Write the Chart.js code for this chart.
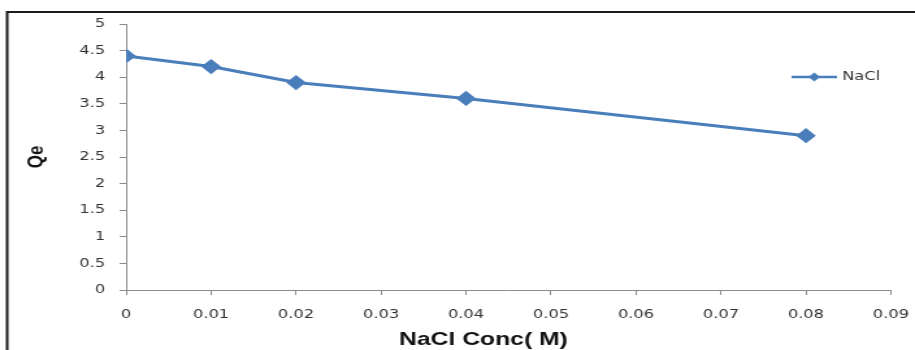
<!DOCTYPE html>
<html>
<head>
<meta charset="UTF-8">
<title>Qe vs NaCl Conc</title>
<script src="https://cdn.jsdelivr.net/npm/chart.js"></script>
<style>
  body { margin: 0; background: #fff; overflow: hidden; }
  /* the figure is drawn narrow and widened, like the pasted-in original */
  .wrap {
    width: 704px;
    height: 350px;
    transform: scaleX(1.2997);
    transform-origin: 0 0;
  }
</style>
</head>
<body>
<div class="wrap"><canvas id="qeChart" width="704" height="350"></canvas></div>
<script>
// NaCl concentration (M) and adsorption capacity Qe
const concentrations = [0, 0.01, 0.02, 0.04, 0.08];
const qeValues = [4.4, 4.2, 3.9, 3.6, 2.9];
const seriesName = 'NaCl';
const xTitle = 'NaCl Conc( M)';
const yTitle = 'Qe';

const lineColor = '#4a7ebb';
const axisColor = '#8c8c8c';
const labelColor = '#333';
const tickFont = { family: "'DejaVu Sans', Verdana, sans-serif", size: 12.5 };
const titleFamily = "'Liberation Sans', Arial, sans-serif";

// outer frame of the figure (left and top edges visible)
const framePlugin = {
  id: 'frame',
  beforeDraw(chart) {
    const ctx = chart.ctx;
    ctx.save();
    ctx.strokeStyle = '#1a1a1a';
    ctx.lineWidth = 2;
    ctx.strokeRect(5.5, 12, 800, 400);
    ctx.restore();
  }
};

// x axis title and the legend entry at the right of the plot
const labelsPlugin = {
  id: 'extraLabels',
  afterDraw(chart) {
    const ctx = chart.ctx;
    const ds = chart.data.datasets[0];
    ctx.save();

    ctx.fillStyle = '#111';
    ctx.font = 'bold 19px ' + titleFamily;
    ctx.textAlign = 'center';
    ctx.textBaseline = 'middle';
    ctx.fillText(xTitle, 372, 340);

    const x = 609, y = 77;
    ctx.strokeStyle = ds.borderColor;
    ctx.lineWidth = 2.5;
    ctx.beginPath();
    ctx.moveTo(x, y);
    ctx.lineTo(x + 35, y);
    ctx.stroke();
    ctx.fillStyle = ds.borderColor;
    ctx.beginPath();
    ctx.moveTo(x + 17.5, y - 4.5);
    ctx.lineTo(x + 22, y);
    ctx.lineTo(x + 17.5, y + 4.5);
    ctx.lineTo(x + 13, y);
    ctx.closePath();
    ctx.fill();
    ctx.fillStyle = labelColor;
    ctx.font = "12.5px 'DejaVu Sans', Verdana, sans-serif";
    ctx.textAlign = 'left';
    ctx.fillText(ds.label, x + 39, y);
    ctx.restore();
  }
};

new Chart(document.getElementById('qeChart'), {
  type: 'line',
  data: {
    datasets: [{
      label: seriesName,
      data: concentrations.map((c, i) => ({ x: c, y: qeValues[i] })),
      borderColor: lineColor,
      backgroundColor: lineColor,
      borderWidth: 3,
      pointStyle: 'rectRot',
      pointRadius: 5.5,
      pointHoverRadius: 5.5,
      tension: 0
    }]
  },
  options: {
    responsive: false,
    devicePixelRatio: 1,
    animation: false,
    layout: { padding: { top: 24, right: 18.5, left: 0, bottom: 0 } },
    plugins: {
      legend: { display: false },
      tooltip: { enabled: false }
    },
    scales: {
      x: {
        type: 'linear',
        min: 0,
        max: 0.09,
        afterFit(scale) {
          scale.height = 60;
          // keep the edge labels from shrinking the plot area
          scale.paddingLeft = 0;
          scale.paddingRight = 0;
        },
        ticks: {
          stepSize: 0.01,
          padding: 12,
          color: labelColor,
          font: tickFont,
          callback: v => String(Number(v.toFixed(2)))
        },
        grid: { drawOnChartArea: false, drawTicks: true, tickLength: 5, color: axisColor },
        border: { color: axisColor, width: 1 }
      },
      y: {
        min: 0,
        max: 5,
        afterFit(scale) { scale.width = 97; },
        ticks: {
          stepSize: 0.5,
          padding: 11,
          color: labelColor,
          font: tickFont,
          callback: v => String(v)
        },
        grid: { drawOnChartArea: false, drawTicks: true, tickLength: 5, color: axisColor },
        border: { color: axisColor, width: 1 },
        title: {
          display: true,
          text: yTitle,
          color: '#111',
          font: { family: titleFamily, size: 17, weight: 'bold' },
          padding: { top: 18, bottom: 0 }
        }
      }
    }
  },
  plugins: [framePlugin, labelsPlugin]
});
</script>
</body>
</html>
